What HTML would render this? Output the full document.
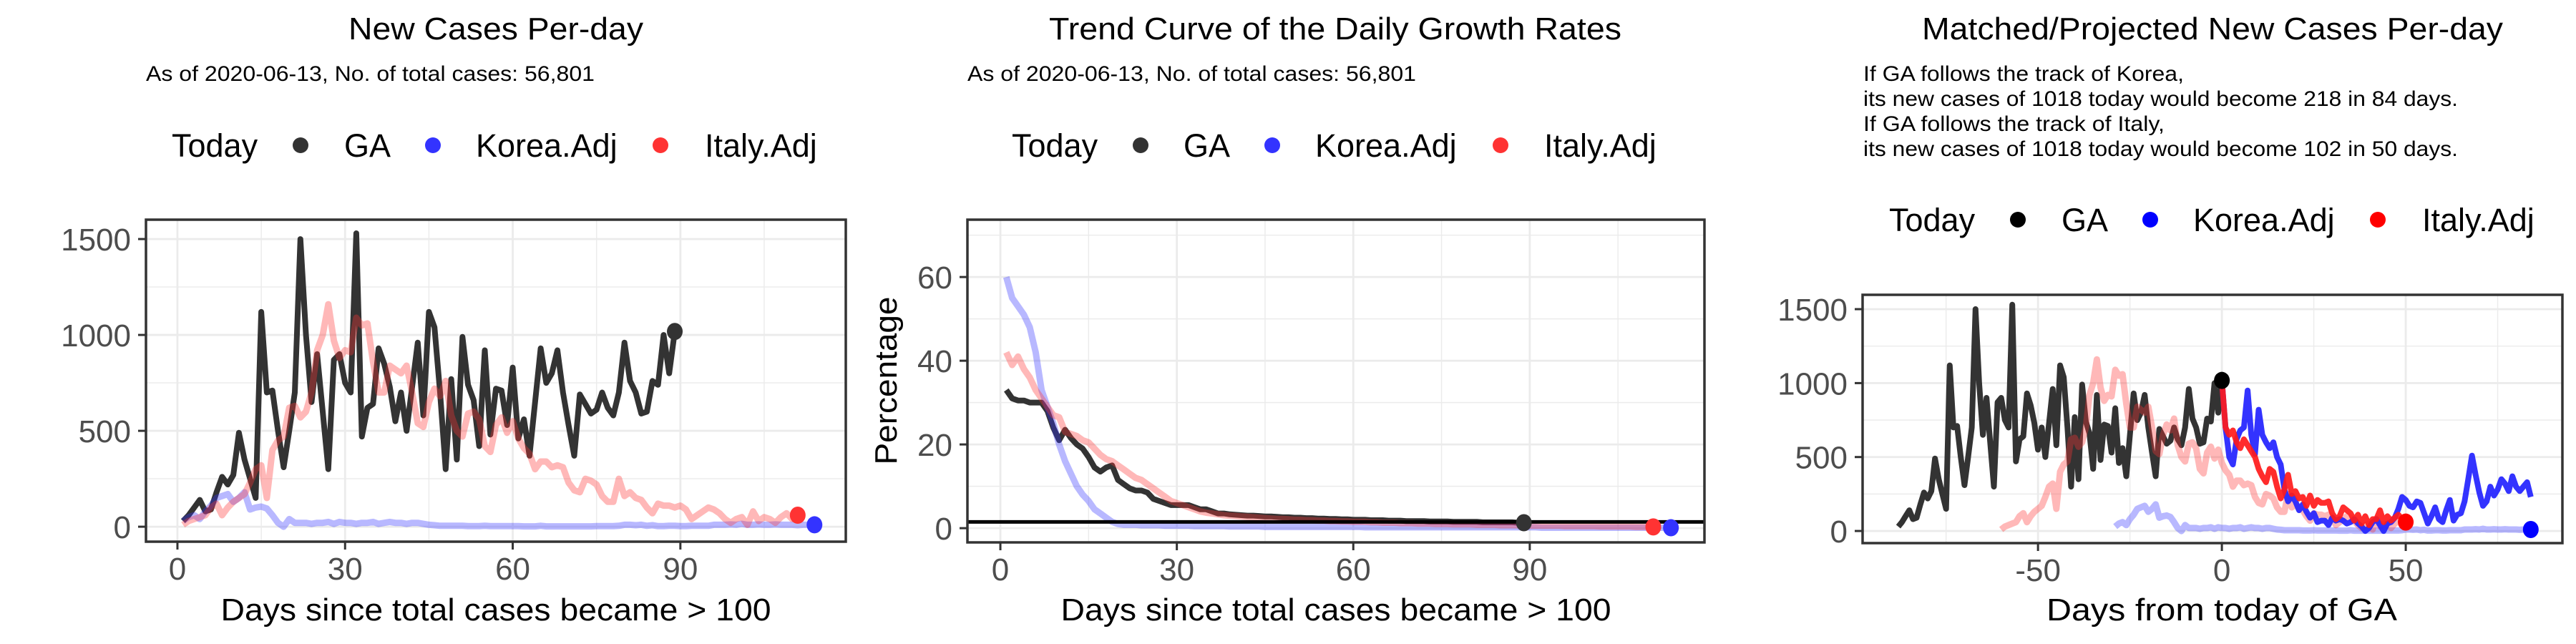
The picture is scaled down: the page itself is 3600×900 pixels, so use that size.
<!DOCTYPE html>
<html><head><meta charset="utf-8"><style>
html,body{margin:0;padding:0;background:#fff}
svg{display:block}
text{font-family:"Liberation Sans",Arial,sans-serif}
</style></head><body>
<svg id="c" width="3600" height="900" viewBox="0 0 3600 900" xmlns="http://www.w3.org/2000/svg"></svg>
<script>
// ---------- data ----------
const gaCases = [30,60,100,140,80,90,180,260,220,270,490,350,250,150,1120,700,710,500,310,500,700,1500,1000,650,900,600,300,870,900,750,700,1530,470,620,640,930,850,730,550,700,500,730,960,580,1120,1040,700,300,770,350,990,740,660,420,920,480,720,710,530,830,460,560,370,650,930,750,800,920,700,530,370,690,640,590,610,700,620,580,700,960,760,700,590,600,760,740,1000,800,1018];
const koreaCases = [30,50,60,40,80,110,150,160,170,130,150,180,90,100,105,95,60,20,0,40,20,
20,20,15,20,20,25,15,25,20,20,15,20,20,25,15,20,25,20,20,15,20,20,15,10,
8,5,5,5,5,5,3,3,3,5,3,3,3,3,3,3,2,2,2,5,2,2,2,2,2,2,2,2,2,3,3,3,3,5,10,10,8,10,5,8,3,3,5,5,3,3,5,5,5,5,
10,10,10,12,10,15,10,10,12,10,10,12,10,10,10,8,10,10,10];
const italyCases = [10,30,40,50,60,100,120,60,100,130,150,170,230,300,320,150,400,450,470,620,630,570,600,700,920,1000,1160,970,880,920,910,1090,1050,1060,860,700,700,840,820,800,840,700,540,520,650,720,680,760,580,500,470,590,600,560,420,390,530,570,490,550,460,410,380,300,340,340,310,320,310,230,190,180,250,240,220,160,130,130,250,160,180,150,140,100,70,120,110,110,100,110,90,40,60,80,100,90,70,40,20,40,50,10,80,30,50,40,20,50,70,40,60];
const gaGrowth = [33,31,30.5,30.5,30,30,30,28,24,21,23.5,21.5,20,19,17,14.5,13.5,14.5,15,11.5,10.5,9.5,9,9,8.5,7,6.5,6,5.5,5.5,5.5,5.5,5,4.5,4.5,4,3.5,3.5,
3.3,3.2,3.1,3,3,2.9,2.8,2.8,2.7,2.6,2.6,2.5,2.5,2.4,2.4,2.3,2.3,2.2,2.2,2.1,2.1,2,2,2,1.9,1.9,1.9,1.8,1.8,1.8,1.7,1.7,1.7,1.7,1.6,1.6,1.6,1.6,1.5,1.5,1.5,1.5,1.5,1.4,1.4,1.4,1.4,1.4,1.4,1.3,1.3];
const koreaGrowth = [60,55,53,51,48,42,33,29,25,20,16,13,10,8,6.5,4.5,3.5,2.5,1.5,1,0.8,
0.8,0.8,0.7,0.7,0.7,0.7,0.6,0.6,0.6,0.6,0.6,0.5,0.5,0.5,0.5,0.5,0.5,0.4,0.4,0.4,0.4,0.4,0.4,0.3,0.3,0.3,0.3,0.3,0.3,0.3,
0.3,0.3,0.3,0.3,0.3,0.3,0.3,0.3,0.3,0.3,0.2,0.2,0.2,0.2,0.2,0.2,0.2,0.2,0.2,0.2,0.2,0.2,0.2,0.2,0.2,0.2,0.2,0.2,0.2,0.2,0.2,0.2,0.2,0.2,0.2,0.2,0.2,0.2,0.2,0.2,
0.1,0.1,0.1,0.1,0.1,0.1,0.1,0.1,0.1,0.1,0.1,0.1,0.1,0.1,0.1,0.1,0.1,0.1,0.1,0.1,0.1,0.1,0.1];
const italyGrowth = [42,39,41,38,36,33,31,29,27,26.5,23,22.5,22,21,20.5,19,17.5,16.5,16,15,14,13,12,11.5,10.5,9.5,8.5,7.5,6.5,6,5.5,5,4.5,4,3.7,
3.5,3.3,3.1,3,2.9,2.8,2.7,2.6,2.5,2.4,2.3,2.2,2.2,2.1,2,2,1.9,1.9,1.8,1.8,1.7,1.7,1.6,1.6,1.5,1.5,1.5,1.4,1.4,1.3,
1.3,1.3,1.2,1.2,1.2,1.1,1.1,1.1,1,1,1,0.9,0.9,0.9,0.9,0.8,0.8,0.8,0.8,0.7,0.7,0.7,0.7,0.7,0.6,0.6,0.6,0.6,0.6,0.6,
0.5,0.5,0.5,0.5,0.5,0.5,0.4,0.4,0.4,0.4,0.4,0.4,0.3,0.3,0.3,0.3];
const koreaProj = [1018,700,500,450,620,680,700,950,650,520,820,650,600,560,600,500,450,280,200,240,200,140,180,130,90,120,60,70,70,40,90,70,80,70,50,60,80,50,30,0,20,60,80,40,0,50,60,90,150,230,210,170,160,200,190,120,50,100,160,80,60,140,210,70,110,120,200,350,510,380,260,170,200,300,240,280,350,320,270,370,300,270,300,330,230];
const italyProj = [1018,700,650,680,600,560,620,580,540,500,420,370,330,420,400,300,220,280,380,250,270,220,230,170,240,170,210,190,190,200,120,80,100,160,140,120,70,110,50,100,40,80,80,140,60,100,70,90,110,80,102];
const casesTicks = [0,500,1000,1500];
const growthTicks = [0,20,40,60];
const dayTicks = [0,30,60,90];
const fromTodayTicks = [-50,0,50];
const koreaShift = -30;
const italyShift = -61;
const gaShift = -89;
const hlineValue = 1.5;

// ---------- helpers ----------
const NS = "http://www.w3.org/2000/svg";
const svg = document.getElementById('c');
function el(tag, attrs, parent) {
  const e = document.createElementNS(NS, tag);
  for (const k in attrs) e.setAttribute(k, attrs[k]);
  (parent || svg).appendChild(e);
  return e;
}
function txt(s, attrs, name, parent) {
  if (attrs.textLength) attrs.lengthAdjust = 'spacingAndGlyphs';
  const t = el('text', attrs, parent);
  t.textContent = s;
  
  
  return t;
}
function panel(cfg) {
  const g = el('g', {});
  
  
  const X = v => cfg.x0 + (v - cfg.xMin) / (cfg.xMax - cfg.xMin) * (cfg.x1 - cfg.x0);
  const Y = v => cfg.y1 - (v - cfg.yMin) / (cfg.yMax - cfg.yMin) * (cfg.y1 - cfg.y0);
  cfg.xMinor.forEach(v => { const l = el('line', {x1:X(v),x2:X(v),y1:cfg.y0,y2:cfg.y1,stroke:'#ebebeb','stroke-width':1.4}, g);
      });
  cfg.yMinor.forEach(v => { const l = el('line', {x1:cfg.x0,x2:cfg.x1,y1:Y(v),y2:Y(v),stroke:'#ebebeb','stroke-width':1.4}, g);
      });
  cfg.xTicks.forEach(v => { const l = el('line', {x1:X(v),x2:X(v),y1:cfg.y0,y2:cfg.y1,stroke:'#ebebeb','stroke-width':2.8}, g);
      });
  cfg.yTicks.forEach(v => { const l = el('line', {x1:cfg.x0,x2:cfg.x1,y1:Y(v),y2:Y(v),stroke:'#ebebeb','stroke-width':2.8}, g);
      });
  return {g, X, Y};
}
function line(p, vals, startDay, color, op, w, name) {
  const pts = vals.map((v, i) => p.X(startDay + i).toFixed(1) + ',' + p.Y(v).toFixed(1)).join(' ');
  const l = el('polyline', {points: pts, fill:'none', stroke: color, 'stroke-opacity': op, 'stroke-width': w, 'stroke-linejoin':'round'}, p.g);
  
  
}
function dot(p, x, y, color, name) {
  const c = el('ellipse', {cx:p.X(x), cy:p.Y(y), rx:11, ry:12, fill:color}, p.g);
  
  
}
function frame(p, cfg, xTickLabels, yTickLabels) {
  const r = el('rect', {x:cfg.x0, y:cfg.y0, width:cfg.x1-cfg.x0, height:cfg.y1-cfg.y0, fill:'none', stroke:'#333', 'stroke-width':3.5}, p.g);
   
  cfg.xTicks.forEach((v, i) => {
    const t = el('line', {x1:p.X(v),x2:p.X(v),y1:cfg.y1,y2:cfg.y1+11,stroke:'#333','stroke-width':3}, p.g);
     
    txt(xTickLabels[i], {x:p.X(v), y:cfg.y1+53, 'font-size':44, fill:'#4d4d4d', 'text-anchor':'middle'}, 'x-tick-label', p.g);
  });
  cfg.yTicks.forEach((v, i) => {
    const t = el('line', {x1:cfg.x0-11,x2:cfg.x0,y1:p.Y(v),y2:p.Y(v),stroke:'#333','stroke-width':3}, p.g);
     
    txt(yTickLabels[i], {x:cfg.x0-21, y:p.Y(v)+16, 'font-size':44, fill:'#4d4d4d', 'text-anchor':'end'}, 'y-tick-label', p.g);
  });
}
function legend(xs, base, cols, names) {
  const g = el('g', {});
   
  txt('Today', {x:xs[0], y:base, 'font-size':45}, 'legend-title', g);
  const labels = ['GA','Korea.Adj','Italy.Adj'];
  for (let i = 0; i < 3; i++) {
    const c = el('ellipse', {cx:xs[1+i*2], cy:base-16, rx:11, ry:11, fill:cols[i]}, g);
     
    txt(labels[i], {x:xs[2+i*2], y:base, 'font-size':45}, 'legend-entry-' + names[i], g);
  }
}

// ---------- panel 1 ----------
const c1 = {name:'new-cases-panel', x0:204, x1:1182, y0:307, y1:757, xMin:-5.63, xMax:119.6, yMin:-78, yMax:1601,
  xTicks:dayTicks, yTicks:casesTicks, xMinor:[15,45,75,105], yMinor:[250,750,1250]};
const p1 = panel(c1);
line(p1, gaCases, 1, '#333333', 1, 8, 'ga-line');
line(p1, koreaCases, 1, '#3333ff', 0.35, 9, 'korea-line');
line(p1, italyCases, 1, '#ff3333', 0.35, 9, 'italy-line');
dot(p1, gaCases.length, gaCases[gaCases.length-1], '#333333', 'ga-today-point');
dot(p1, italyCases.length, italyCases[italyCases.length-1], '#ff3333', 'italy-today-point');
dot(p1, koreaCases.length, koreaCases[koreaCases.length-1], '#3333ff', 'korea-today-point');
frame(p1, c1, dayTicks.map(String), casesTicks.map(String));
txt('New Cases Per-day', {x:693, y:55, 'font-size':44, 'text-anchor':'middle', textLength:412}, 'chart-title');
txt('As of 2020-06-13, No. of total cases: 56,801', {x:204, y:113, 'font-size':30, textLength:627}, 'chart-subtitle');
legend([240,420,481,605,665,923,985], 219, ['#333333','#3333ff','#ff3333'], ['ga','korea','italy']);
txt('Days since total cases became > 100', {x:693, y:867, 'font-size':44, 'text-anchor':'middle', textLength:769}, 'x-axis-title');

// ---------- panel 2 ----------
const c2 = {name:'growth-rate-panel', x0:1352, x1:2382, y0:307, y1:758, xMin:-5.6, xMax:119.7, yMin:-3.4, yMax:73.7,
  xTicks:dayTicks, yTicks:growthTicks, xMinor:[15,45,75,105], yMinor:[10,30,50,70]};
const p2 = panel(c2);
line(p2, gaGrowth, 1, '#333333', 1, 8, 'ga-growth-line');
line(p2, koreaGrowth, 1, '#3333ff', 0.35, 9, 'korea-growth-line');
line(p2, italyGrowth, 1, '#ff3333', 0.35, 9, 'italy-growth-line');
const hl = el('line', {x1:c2.x0, x2:c2.x1, y1:p2.Y(hlineValue), y2:p2.Y(hlineValue), stroke:'#000', 'stroke-width':5}, p2.g);
 
dot(p2, gaGrowth.length, gaGrowth[gaGrowth.length-1], '#333333', 'ga-today-point');
dot(p2, italyGrowth.length, italyGrowth[italyGrowth.length-1], '#ff3333', 'italy-today-point');
dot(p2, koreaGrowth.length, koreaGrowth[koreaGrowth.length-1], '#3333ff', 'korea-today-point');
frame(p2, c2, dayTicks.map(String), growthTicks.map(String));
txt('Trend Curve of the Daily Growth Rates', {x:1866, y:55, 'font-size':44, 'text-anchor':'middle', textLength:800}, 'chart-title');
txt('As of 2020-06-13, No. of total cases: 56,801', {x:1352, y:113, 'font-size':30, textLength:627}, 'chart-subtitle');
legend([1414,1594,1654,1778,1838,2097,2158], 219, ['#333333','#3333ff','#ff3333'], ['ga','korea','italy']);
txt('Days since total cases became > 100', {x:1867, y:867, 'font-size':44, 'text-anchor':'middle', textLength:769}, 'x-axis-title');
txt('Percentage', {x:0, y:0, 'font-size':44, 'text-anchor':'middle', transform:'translate(1253,532) rotate(-90)', textLength:235}, 'y-axis-title');

// ---------- panel 3 ----------
const c3 = {name:'projection-panel', x0:2603, x1:3581, y0:412, y1:759, xMin:-97.7, xMax:92.6, yMin:-82, yMax:1597,
  xTicks:fromTodayTicks, yTicks:casesTicks, xMinor:[-75,-25,25,75], yMinor:[250,750,1250]};
const p3 = panel(c3);
line(p3, gaCases, gaShift + 1, '#333333', 1, 8, 'ga-line');
line(p3, koreaCases, koreaShift + 1, '#3333ff', 0.35, 9, 'korea-line');
line(p3, italyCases, italyShift + 1, '#ff3333', 0.35, 9, 'italy-line');
line(p3, koreaProj, 0, '#2222ff', 0.92, 8, 'korea-projection-line');
line(p3, italyProj, 0, '#ff1a1a', 0.92, 8, 'italy-projection-line');
dot(p3, 0, gaCases[gaCases.length-1], '#000000', 'ga-today-point');
dot(p3, italyCases.length + italyShift, italyCases[italyCases.length-1], '#ff0000', 'italy-today-point');
dot(p3, koreaCases.length + koreaShift, koreaCases[koreaCases.length-1], '#0000ff', 'korea-today-point');
frame(p3, c3, fromTodayTicks.map(String), casesTicks.map(String));
txt('Matched/Projected New Cases Per-day', {x:3092, y:55, 'font-size':44, 'text-anchor':'middle', textLength:812}, 'chart-title');
txt('If GA follows the track of Korea,', {x:2604, y:113, 'font-size':30, textLength:448}, 'projection-note-korea');
txt('its new cases of 1018 today would become 218 in 84 days.', {x:2604, y:148, 'font-size':30, textLength:831}, 'projection-note-korea-detail');
txt('If GA follows the track of Italy,', {x:2604, y:183, 'font-size':30, textLength:421}, 'projection-note-italy');
txt('its new cases of 1018 today would become 102 in 50 days.', {x:2604, y:218, 'font-size':30, textLength:831}, 'projection-note-italy-detail');
legend([2640,2820,2881,3005,3065,3323,3385], 323, ['#000000','#0000ff','#ff0000'], ['ga','korea','italy']);
txt('Days from today of GA', {x:3105, y:867, 'font-size':44, 'text-anchor':'middle', textLength:490}, 'x-axis-title');
</script>
</body></html>
